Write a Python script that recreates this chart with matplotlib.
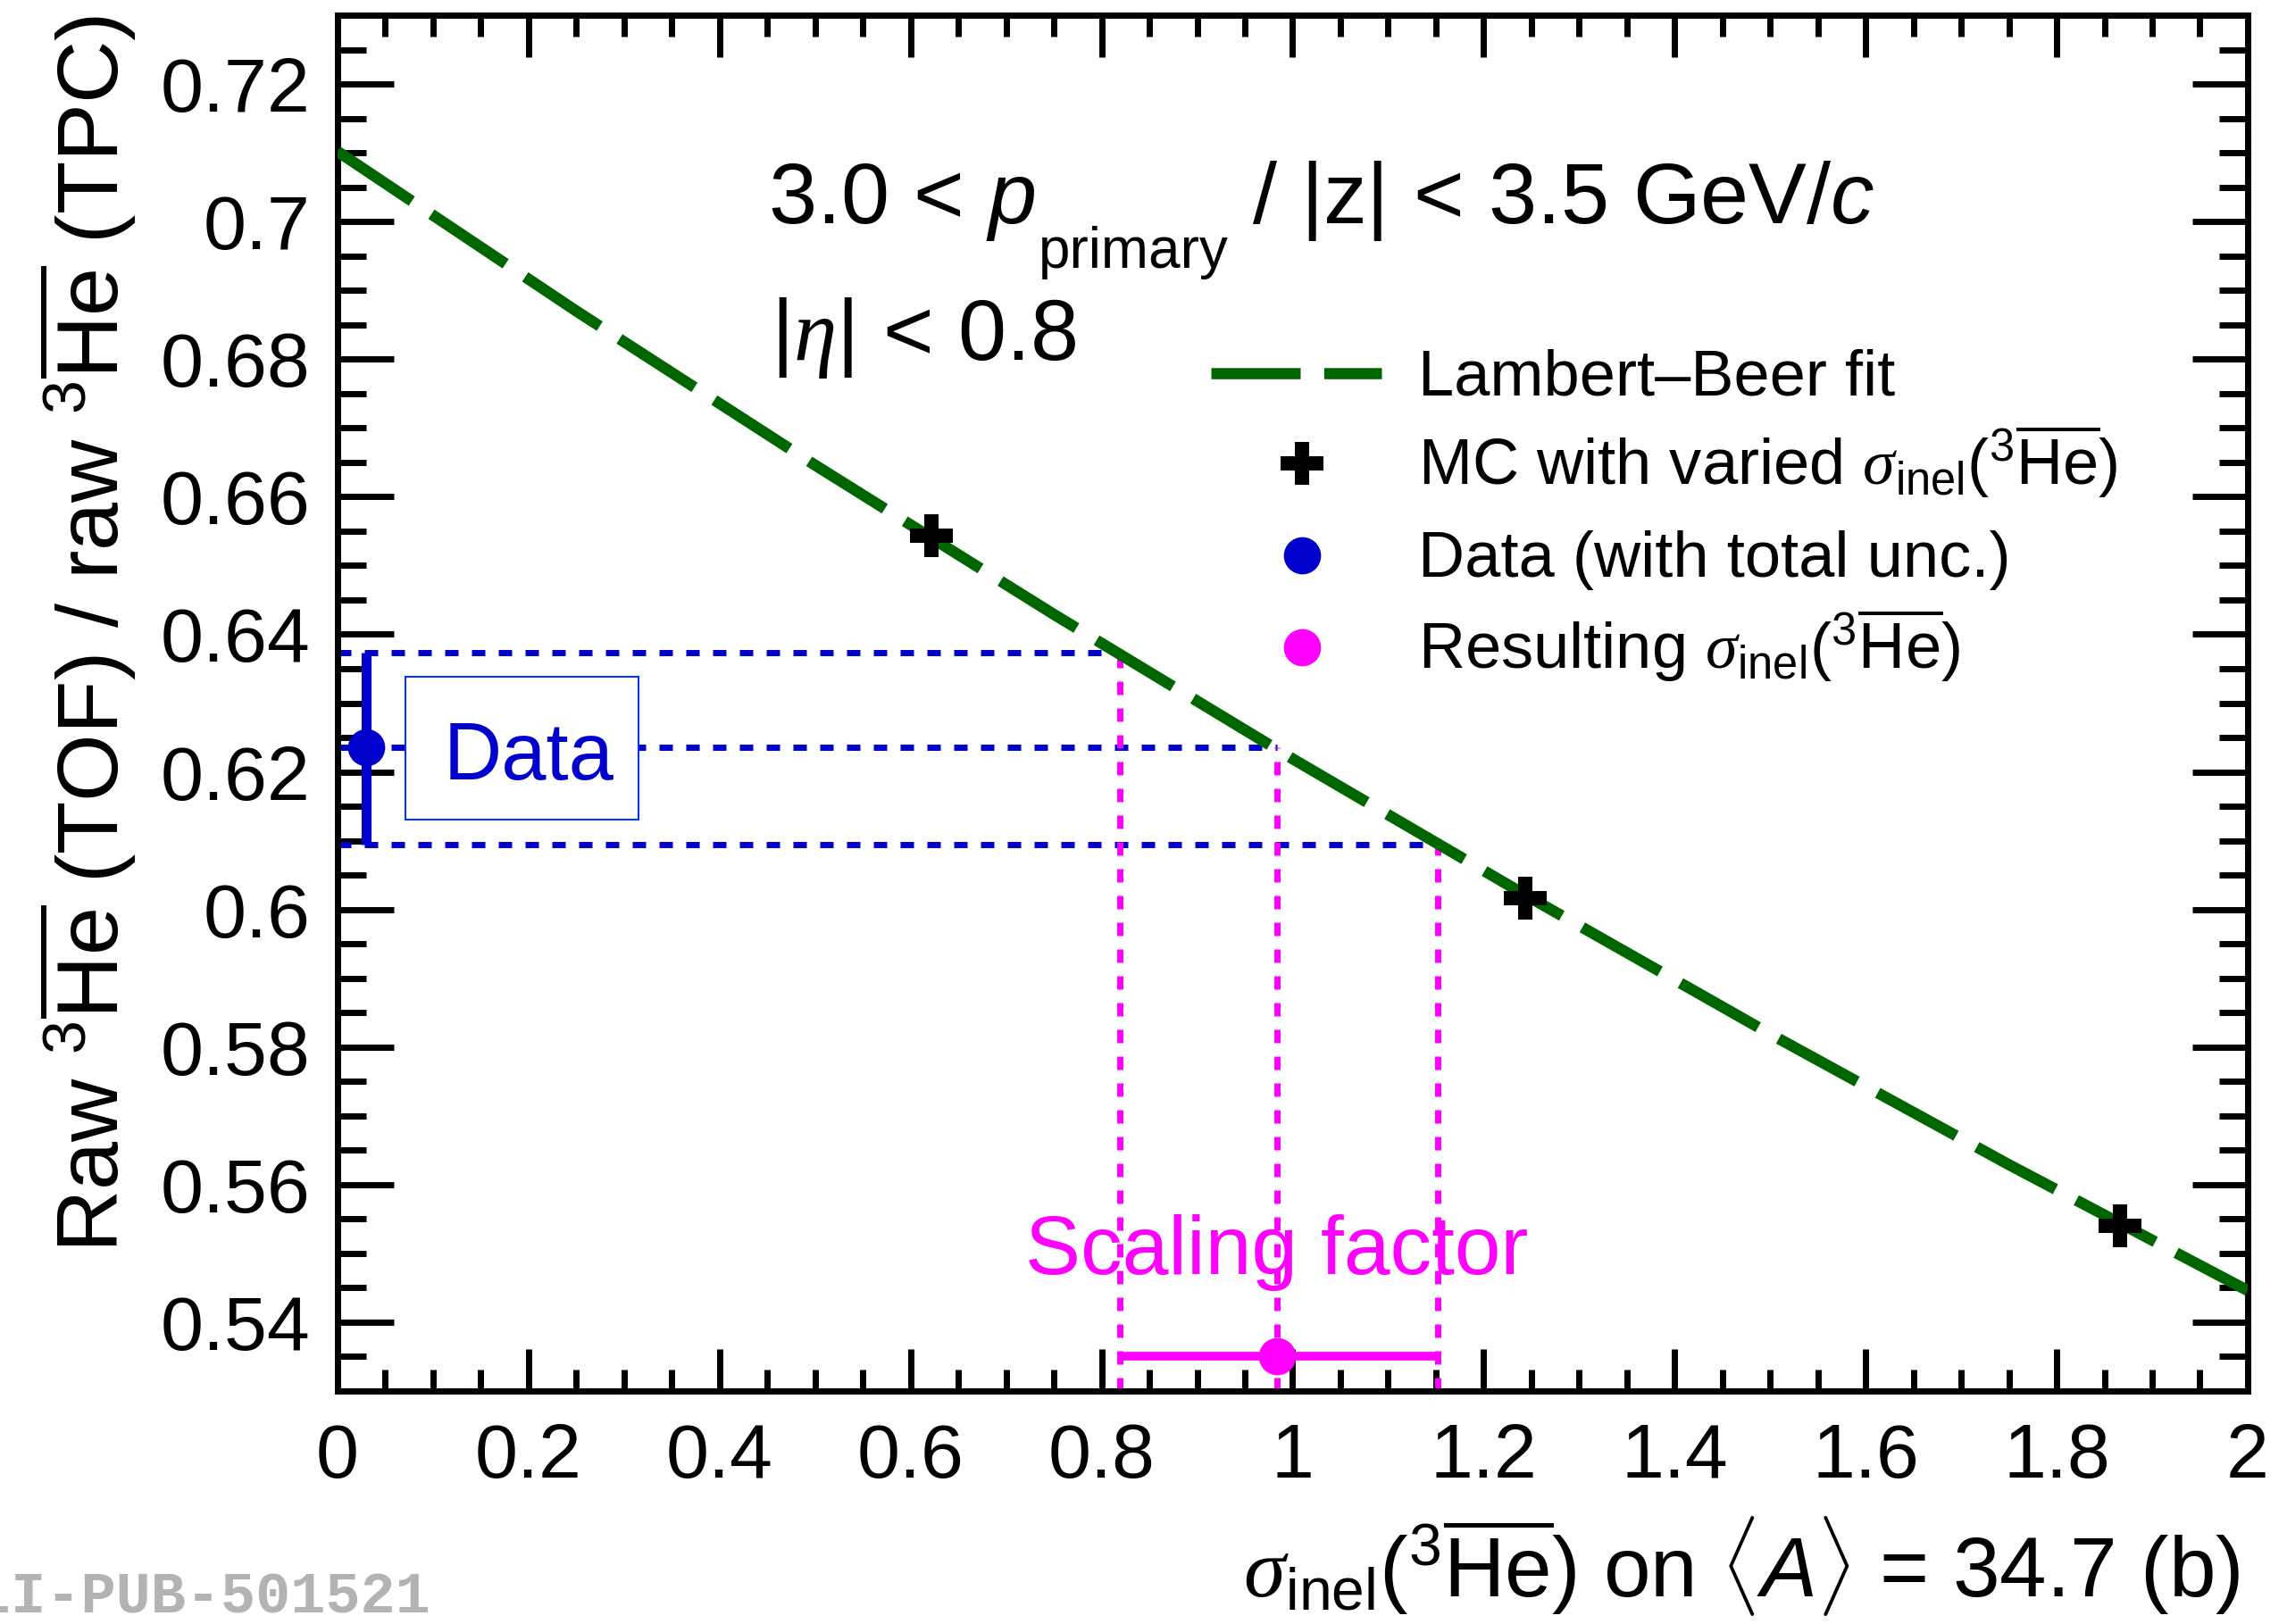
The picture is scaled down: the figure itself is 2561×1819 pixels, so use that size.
import matplotlib
matplotlib.use('Agg')
import matplotlib.pyplot as plt
from matplotlib.patches import Rectangle
from matplotlib.ticker import MultipleLocator

plt.rcParams['font.family'] = ['Liberation Sans', 'DejaVu Sans']
plt.rcParams['mathtext.fontset'] = 'custom'
plt.rcParams['mathtext.rm'] = 'Liberation Sans'
plt.rcParams['mathtext.it'] = 'Liberation Sans:italic'
plt.rcParams['mathtext.bf'] = 'Liberation Sans:bold'
plt.rcParams['mathtext.cal'] = 'Liberation Serif:italic'
plt.rcParams['lines.scale_dashes'] = False

# Lambert-Beer fit
fit_x = [0.0, 0.25, 0.5, 0.75, 1.0, 1.25, 1.5, 1.75, 2.0]
fit_y = [0.7102, 0.6870, 0.6646, 0.6429, 0.6219, 0.6016, 0.5819, 0.5629, 0.5446]

# MC with varied sigma_inel
mc_x = [0.622, 1.244, 1.866]
mc_y = [0.6544, 0.6016, 0.5540]

# data ratio with total uncertainty
data_x = [0.030]
data_y = [0.6236]
data_lo = [0.6094]
data_hi = [0.6373]

# resulting sigma_inel (scaling factor) with its range
res_x = [0.9837]
res_y = [0.535]
res_lo = [0.819]
res_hi = [1.152]

x_ticks = [0, 0.2, 0.4, 0.6, 0.8, 1.0, 1.2, 1.4, 1.6, 1.8, 2.0]
x_tick_labels = ['0', '0.2', '0.4', '0.6', '0.8', '1', '1.2', '1.4', '1.6', '1.8', '2']
y_ticks = [0.54, 0.56, 0.58, 0.60, 0.62, 0.64, 0.66, 0.68, 0.70, 0.72]
y_tick_labels = ['0.54', '0.56', '0.58', '0.6', '0.62', '0.64', '0.66', '0.68', '0.7', '0.72']

he = r'$^{3}\overline{\mathrm{He}}$'
sig = r'$\mathcal{\sigma}_{\mathrm{inel}}(^{3}\overline{\mathrm{He}})$'
legend_labels = ['Lambert–Beer fit',
                 'MC with varied ' + sig,
                 'Data (with total unc.)',
                 'Resulting ' + sig]

blue = '#0000cc'
mag = '#ff00ff'
green = '#006600'

fig = plt.figure(figsize=(25.61, 18.19), dpi=100)
ax = fig.add_axes([0.1476, 0.1435, 0.8352, 0.8471])
ax.set_xlim(0, 2)
ax.set_ylim(0.53, 0.73)

# dotted guide lines
ax.hlines([data_hi[0], data_y[0], data_lo[0]], 0, [res_lo[0], res_x[0], res_hi[0]],
          colors=blue, linewidth=5, linestyles=[(0, (10.8, 10.8))], zorder=2)
ax.vlines([res_lo[0], res_x[0], res_hi[0]], 0.53, [data_hi[0], data_y[0], data_lo[0]],
          colors=mag, linewidth=5, linestyles=[(0, (10.8, 10.8))], zorder=2)

ax.plot(fit_x, fit_y, color=green, lw=9, dashes=(72, 19), dash_capstyle='butt', zorder=3)

ax.plot(mc_x, mc_y, 'P', color='black', ms=35, mew=0, ls='none', zorder=6)

ax.errorbar(data_x, data_y,
            yerr=[[data_y[0] - data_lo[0]], [data_hi[0] - data_y[0]]],
            fmt='o', color=blue, ms=30, mew=0, elinewidth=8, capsize=11, capthick=6, zorder=6)
ax.errorbar(res_x, res_y,
            xerr=[[res_x[0] - res_lo[0]], [res_hi[0] - res_x[0]]],
            fmt='o', color=mag, ms=30, mew=0, elinewidth=7, capsize=12, capthick=5, zorder=6)

# "Data" box
ax.add_patch(Rectangle((0.0711, 0.6131), 0.244, 0.0207, facecolor='white',
                       edgecolor='#0033ff', lw=1.5, zorder=4))
ax.text(0.2001, 0.6189, 'Data', ha='center', va='baseline', color=blue, fontsize=65, zorder=5)
ax.text(0.983, 0.547, 'Scaling factor', ha='center', va='baseline', color=mag, fontsize=67, zorder=5)

# header text, subscript placed by hand (ROOT style: deep and large)
hy = 0.8488
t1 = ax.text(0.2253, hy, r'3.0 < $p$', transform=ax.transAxes, fontsize=70, va='baseline')
t2 = ax.annotate('primary', xy=(1, hy), xycoords=(t1, 'axes fraction'),
                 xytext=(3, -36), textcoords='offset points', fontsize=46, va='baseline')
ax.annotate('/ |z| < 3.5 GeV/$c$', xy=(1, hy), xycoords=(t2, 'axes fraction'),
            xytext=(19, 0), textcoords='offset points', fontsize=70, va='baseline')
ax.text(0.2267, 0.7495, r'|$\mathcal{\eta}$| < 0.8',
        transform=ax.transAxes, fontsize=70, va='baseline')

# legend, drawn row by row
row_y = [0.7398, 0.6742, 0.6074, 0.5406]
ax.plot([0.4574, 0.5465], [row_y[0], row_y[0]], transform=ax.transAxes, color=green,
        lw=9, dashes=(72, 19), dash_capstyle='butt', clip_on=False)
ax.plot([0.5049], [row_y[1]], 'P', color='black', ms=35, mew=0, transform=ax.transAxes)
ax.plot([0.5049], [row_y[2]], 'o', color=blue, ms=30, mew=0, transform=ax.transAxes)
ax.plot([0.5049], [row_y[3]], 'o', color=mag, ms=30, mew=0, transform=ax.transAxes)
for ry, lab in zip(row_y, legend_labels):
    ax.text(0.5657, ry - 0.0156, lab, transform=ax.transAxes, fontsize=52, va='baseline')

# axes styling
ax.set_xticks(x_ticks)
ax.set_xticklabels(x_tick_labels)
ax.set_yticks(y_ticks)
ax.set_yticklabels(y_tick_labels)
ax.xaxis.set_minor_locator(MultipleLocator(0.05))
ax.yaxis.set_minor_locator(MultipleLocator(0.005))
ax.tick_params(which='both', direction='in', top=True, right=True, width=5, labelsize=62)
ax.tick_params(axis='x', which='major', length=34, pad=25)
ax.tick_params(axis='x', which='minor', length=17)
ax.tick_params(axis='y', which='major', length=45, pad=22)
ax.tick_params(axis='y', which='minor', length=23)
for s in ax.spines.values():
    s.set_linewidth(5)

ax.set_xlabel(sig + r' on $\langle A\rangle$ = 34.7 (b)', fontsize=68, loc='right')
ax.xaxis.label.set_va('baseline')
ax.xaxis.set_label_coords(0.996, -0.1493)
ax.set_ylabel('Raw ' + he + ' (TOF) / raw ' + he + ' (TPC)', fontsize=70, loc='top')
ax.yaxis.label.set_va('baseline')
ax.yaxis.set_label_coords(-0.1145, 1.0)

fig.text(0.1882, 0.0066, 'ALI-PUB-501521', ha='right', va='baseline', family='Liberation Mono',
         weight='bold', fontsize=47, color='#b3b3b3')

fig.savefig('out.png', dpi=100)
